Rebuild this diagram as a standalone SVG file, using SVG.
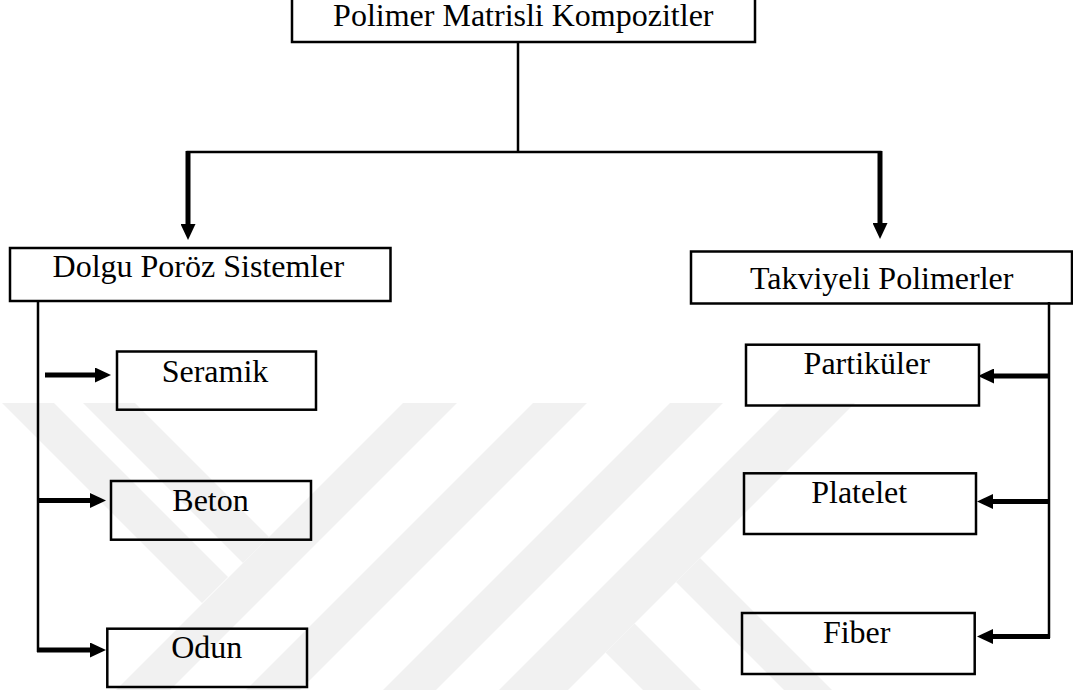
<svg xmlns="http://www.w3.org/2000/svg" width="1073" height="690" viewBox="0 0 1073 690">
<defs>
<style>
.wm{fill:#f1f1f1;stroke:none}
.box{fill:none;stroke:#000;stroke-width:2.5}
.lbl{font-family:"Liberation Serif","Times New Roman",serif;font-size:32px;fill:#000;text-anchor:middle}
.thin{fill:none;stroke:#000;stroke-width:2.5}
.thick{fill:none;stroke:#000;stroke-width:5}
</style>
<marker id="ah" viewBox="0 0 16 15" refX="1" refY="7.5" markerWidth="16" markerHeight="15" markerUnits="userSpaceOnUse" orient="auto">
<path d="M0,0 L16,7.5 L0,15 Z" fill="#000"/>
</marker>
</defs>
<rect width="1073" height="690" fill="#fff"/>
<g id="watermark">
<polygon class="wm" points="2,403 54,403 228,577 202,603"/>
<polygon class="wm" points="83,403 135,403 269,537 243,563"/>
<polygon class="wm" points="403,403 457,403 170,690 116,690"/>
<polygon class="wm" points="533,403 587,403 300,690 246,690"/>
<polygon class="wm" points="670,403 723,403 436,690 383,690"/>
<polygon class="wm" points="786,403 855,403 568,690 499,690"/>
<polygon class="wm" points="700,558 832,690 784,690 676,582"/>
<polygon class="wm" points="634.5,623.5 701,690 643,690 605.5,652.5"/>
</g>
<g id="connectors">
<path class="thin" d="M518,42 V152"/>
<path class="thin" d="M186.5,152 H881.5"/>
<path class="thick" d="M188,151 V225" marker-end="url(#ah)"/>
<path class="thick" d="M880,151 V224" marker-end="url(#ah)"/>
<path class="thin" d="M38,301 V652"/>
<path class="thick" d="M45,375 H96" marker-end="url(#ah)"/>
<path class="thick" d="M37,500.5 H91" marker-end="url(#ah)"/>
<path class="thick" d="M37,650 H91" marker-end="url(#ah)"/>
<path class="thin" d="M1049,302 V638"/>
<path class="thick" d="M1050,376 H993" marker-end="url(#ah)"/>
<path class="thick" d="M1050,501.5 H992" marker-end="url(#ah)"/>
<path class="thick" d="M1050,636.5 H992" marker-end="url(#ah)"/>
</g>
<g id="node-root">
<rect class="box" x="292" y="-15" width="463" height="57"/>
<text class="lbl" x="523.3" y="26">Polimer Matrisli Kompozitler</text>
</g>
<g id="node-dolgu">
<rect class="box" x="10" y="248" width="380.5" height="53"/>
<text class="lbl" x="198.3" y="276.7">Dolgu Poröz Sistemler</text>
</g>
<g id="node-takviyeli">
<rect class="box" x="691" y="251.5" width="381" height="52"/>
<text class="lbl" x="881.7" y="289.3">Takviyeli Polimerler</text>
</g>
<g id="node-seramik">
<rect class="box" x="117" y="351.5" width="199" height="58.2"/>
<text class="lbl" x="215" y="381.7">Seramik</text>
</g>
<g id="node-beton">
<rect class="box" x="111" y="481" width="200" height="58.7"/>
<text class="lbl" x="210.5" y="511">Beton</text>
</g>
<g id="node-odun">
<rect class="box" x="107.3" y="628.7" width="199.7" height="58.3"/>
<text class="lbl" x="206.7" y="657.5">Odun</text>
</g>
<g id="node-partikuler">
<rect class="box" x="746" y="344.7" width="233" height="60.8"/>
<text class="lbl" x="866.7" y="374">Partiküler</text>
</g>
<g id="node-platelet">
<rect class="box" x="744" y="473.3" width="232" height="60.7"/>
<text class="lbl" x="859.2" y="502.7">Platelet</text>
</g>
<g id="node-fiber">
<rect class="box" x="742" y="613" width="232.7" height="61"/>
<text class="lbl" x="856.7" y="643.3">Fiber</text>
</g>
</svg>
